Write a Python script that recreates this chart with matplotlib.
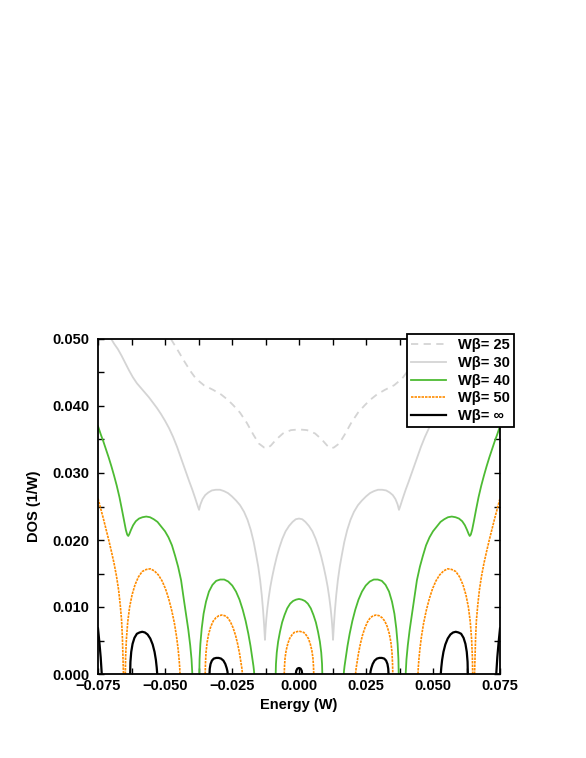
import numpy as np
import matplotlib
matplotlib.use('Agg')
import matplotlib.pyplot as plt
from matplotlib.ticker import MultipleLocator, FuncFormatter

plt.rcParams['font.family'] = ['Liberation Sans', 'DejaVu Sans']
plt.rcParams['font.weight'] = 'bold'

nan = np.nan

#### DATA (NaN splits the separate arcs)
labels = ['W\u03b2= 25', 'W\u03b2= 30', 'W\u03b2= 40', 'W\u03b2= 50', 'W\u03b2= \u221e']

# W beta = 25 (dashed grey)
x_25 = [-0.0478, -0.0455, -0.0430, -0.0405, -0.0385, -0.0355, -0.0320, -0.0290, -0.0265, -0.0245,
        -0.0220, -0.0195, -0.0170, -0.0150, -0.0130, -0.0118, -0.0105, -0.0085, -0.0060, -0.0030, 0.0,
        0.0030, 0.0060, 0.0085, 0.0105, 0.0118, 0.0130, 0.0150, 0.0170, 0.0195, 0.0220,
        0.0245, 0.0265, 0.0290, 0.0320, 0.0355, 0.0385, 0.0405, 0.0430, 0.0455, 0.0478]
y_25 = [0.0500, 0.0485, 0.0468, 0.0452, 0.0441, 0.0431, 0.0424, 0.0417, 0.0409, 0.0401,
        0.0390, 0.0375, 0.0357, 0.0344, 0.0338, 0.0337, 0.0341, 0.0350, 0.0359, 0.0364, 0.0365,
        0.0364, 0.0359, 0.0350, 0.0341, 0.0337, 0.0338, 0.0344, 0.0357, 0.0375, 0.0390,
        0.0401, 0.0409, 0.0417, 0.0424, 0.0431, 0.0441, 0.0452, 0.0468, 0.0485, 0.0500]

# W beta = 30 (solid grey)
x_30_left = [-0.0702, -0.0690, -0.0676, -0.0662, -0.0648, -0.0634, -0.0620, -0.0605, -0.0590, -0.0575,
             -0.0560, -0.0545, -0.0530, -0.0515, -0.0500, -0.0485, -0.0470, -0.0455, -0.0440, -0.0425,
             -0.0410, -0.0398, -0.0387, -0.0379,
             -0.0373, -0.0368, -0.0360, -0.0350, -0.0338, -0.0325, -0.0310, -0.0295, -0.0280, -0.0265,
             -0.0250, -0.0235, -0.0220, -0.0205, -0.0192, -0.0180, -0.0169, -0.0160, -0.0152, -0.0145,
             -0.0139, -0.0134, -0.0130,
             -0.0127, -0.0125, -0.0122, -0.0118, -0.0113, -0.0107, -0.0100, -0.0092, -0.0083, -0.0073,
             -0.0062, -0.0050, -0.0037, -0.0024, -0.0012, 0.0]
y_30_left = [0.0501, 0.0493, 0.0485, 0.0475, 0.0464, 0.0453, 0.0443, 0.0434, 0.0427, 0.0420,
             0.0413, 0.0405, 0.0397, 0.0388, 0.0378, 0.0367, 0.0354, 0.0339, 0.0322, 0.0305,
             0.0288, 0.0275, 0.0262, 0.0252,
             0.0245, 0.0253, 0.0261, 0.0267, 0.0271, 0.0274, 0.0275, 0.0275, 0.0273, 0.0270,
             0.0265, 0.0259, 0.0252, 0.0242, 0.0230, 0.0215, 0.0197, 0.0178, 0.0160, 0.0140,
             0.0118, 0.0095, 0.0072,
             0.0051, 0.0066, 0.0082, 0.0098, 0.0114, 0.0130, 0.0145, 0.0160, 0.0175, 0.0189,
             0.0202, 0.0213, 0.0221, 0.0227, 0.0231, 0.0232]
x_30_right = [0.0012, 0.0024, 0.0037, 0.0050, 0.0062, 0.0073, 0.0083, 0.0092, 0.0100, 0.0107,
              0.0113, 0.0118, 0.0122, 0.0125, 0.0127,
              0.0130, 0.0134, 0.0139, 0.0145, 0.0152, 0.0160, 0.0169, 0.0180, 0.0192, 0.0205,
              0.0220, 0.0235, 0.0250, 0.0265, 0.0280, 0.0295, 0.0310, 0.0325, 0.0338, 0.0350,
              0.0360, 0.0368, 0.0373,
              0.0379, 0.0387, 0.0398, 0.0410, 0.0425, 0.0440, 0.0455, 0.0470, 0.0485, 0.0500,
              0.0515, 0.0530, 0.0545, 0.0560, 0.0575, 0.0590, 0.0605, 0.0620, 0.0634, 0.0648,
              0.0662, 0.0676, 0.0690, 0.0702]
y_30_right = [0.0231, 0.0227, 0.0221, 0.0213, 0.0202, 0.0189, 0.0175, 0.0160, 0.0145, 0.0130,
              0.0114, 0.0098, 0.0082, 0.0066, 0.0051,
              0.0072, 0.0095, 0.0118, 0.0140, 0.0160, 0.0178, 0.0197, 0.0215, 0.0230, 0.0242,
              0.0252, 0.0259, 0.0265, 0.0270, 0.0273, 0.0275, 0.0275, 0.0274, 0.0271, 0.0267,
              0.0261, 0.0253, 0.0245,
              0.0252, 0.0262, 0.0275, 0.0288, 0.0305, 0.0322, 0.0339, 0.0354, 0.0367, 0.0378,
              0.0388, 0.0397, 0.0405, 0.0413, 0.0420, 0.0427, 0.0434, 0.0443, 0.0453, 0.0464,
              0.0475, 0.0485, 0.0493, 0.0501]

# W beta = 40 (green)
x_40_left = [-0.0750, -0.0740, -0.0730, -0.0720, -0.0710, -0.0700, -0.0690, -0.0680, -0.0670, -0.0661,
             -0.0653, -0.0646, -0.0641, -0.0637, -0.0633, -0.0627, -0.0619, -0.0609, -0.0597, -0.0584,
             -0.0570, -0.0556, -0.0542, -0.0528, -0.0514, -0.0500, -0.0487, -0.0474, -0.0462, -0.0451,
             -0.0440, -0.0430, -0.0421, -0.0413, -0.0406, -0.0401, -0.0398, nan,
             -0.0372, -0.0371, -0.0368, -0.0363, -0.0356, -0.0347, -0.0336, -0.0323, -0.0309, -0.0294,
             -0.0279, -0.0264, -0.0249, -0.0235, -0.0222, -0.0210, -0.0199, -0.0189, -0.0181, -0.0175,
             -0.0170, -0.0168, -0.0167, nan,
             -0.0087, -0.0086, -0.0083, -0.0078, -0.0071, -0.0063, -0.0054, -0.0044, -0.0033, -0.0022,
             -0.0011, 0.0]
y_40_left = [0.0370, 0.0358, 0.0347, 0.0335, 0.0323, 0.0310, 0.0296, 0.0281, 0.0264, 0.0246,
             0.0229, 0.0215, 0.0208, 0.0206, 0.0209, 0.0215, 0.0222, 0.0228, 0.0232, 0.0234,
             0.0235, 0.0234, 0.0231, 0.0227, 0.0220, 0.0213, 0.0204, 0.0192, 0.0176, 0.0160,
             0.0140, 0.0112, 0.0088, 0.0066, 0.0043, 0.0022, 0.0, nan,
             0.0, 0.0022, 0.0045, 0.0068, 0.0090, 0.0108, 0.0123, 0.0133, 0.0139, 0.0141,
             0.0141, 0.0138, 0.0132, 0.0123, 0.0111, 0.0096, 0.0079, 0.0060, 0.0042, 0.0026,
             0.0012, 0.0005, 0.0, nan,
             0.0, 0.0015, 0.0032, 0.0048, 0.0063, 0.0077, 0.0088, 0.0098, 0.0105, 0.0109,
             0.0111, 0.0112]
x_40_right = [0.0011, 0.0022, 0.0033, 0.0044, 0.0054, 0.0063, 0.0071, 0.0078, 0.0083, 0.0086,
              0.0087, nan,
              0.0167, 0.0168, 0.0170, 0.0175, 0.0181, 0.0189, 0.0199, 0.0210, 0.0222, 0.0235,
              0.0249, 0.0264, 0.0279, 0.0294, 0.0309, 0.0323, 0.0336, 0.0347, 0.0356, 0.0363,
              0.0368, 0.0371, 0.0372, nan,
              0.0398, 0.0401, 0.0406, 0.0413, 0.0421, 0.0430, 0.0440, 0.0451, 0.0462, 0.0474,
              0.0487, 0.0500, 0.0514, 0.0528, 0.0542, 0.0556, 0.0570, 0.0584, 0.0597, 0.0609,
              0.0619, 0.0627, 0.0633, 0.0637, 0.0641, 0.0646, 0.0653, 0.0661, 0.0670, 0.0680,
              0.0690, 0.0700, 0.0710, 0.0720, 0.0730, 0.0740, 0.0750]
y_40_right = [0.0111, 0.0109, 0.0105, 0.0098, 0.0088, 0.0077, 0.0063, 0.0048, 0.0032, 0.0015,
              0.0, nan,
              0.0, 0.0005, 0.0012, 0.0026, 0.0042, 0.0060, 0.0079, 0.0096, 0.0111, 0.0123,
              0.0132, 0.0138, 0.0141, 0.0141, 0.0139, 0.0133, 0.0123, 0.0108, 0.0090, 0.0068,
              0.0045, 0.0022, 0.0, nan,
              0.0, 0.0022, 0.0043, 0.0066, 0.0088, 0.0112, 0.0140, 0.0160, 0.0176, 0.0192,
              0.0204, 0.0213, 0.0220, 0.0227, 0.0231, 0.0234, 0.0235, 0.0234, 0.0232, 0.0228,
              0.0222, 0.0215, 0.0209, 0.0206, 0.0208, 0.0215, 0.0229, 0.0246, 0.0264, 0.0281,
              0.0296, 0.0310, 0.0323, 0.0335, 0.0347, 0.0358, 0.0370]

# W beta = 50 (orange, dotted)
x_50_left = [-0.0750, -0.0740, -0.0730, -0.0720, -0.0710, -0.0700, -0.0690, -0.0681, -0.0673, -0.0667,
             -0.0662, -0.0659, -0.0657, -0.0655, nan,
             -0.0648, -0.0647, -0.0644, -0.0639, -0.0632, -0.0623, -0.0612, -0.0599, -0.0585, -0.0570,
             -0.0555, -0.0540, -0.0525, -0.0511, -0.0498, -0.0486, -0.0475, -0.0465, -0.0457, -0.0451,
             -0.0447, -0.0445, -0.0444, nan,
             -0.0350, -0.0349, -0.0347, -0.0343, -0.0337, -0.0329, -0.0320, -0.0310, -0.0299, -0.0288,
             -0.0277, -0.0266, -0.0256, -0.0246, -0.0237, -0.0229, -0.0222, -0.0217, -0.0213, -0.0211, nan,
             -0.0055, -0.0054, -0.0052, -0.0048, -0.0042, -0.0035, -0.0027, -0.0018, -0.0009, 0.0]
y_50_left = [0.0262, 0.0247, 0.0232, 0.0216, 0.0200, 0.0183, 0.0165, 0.0146, 0.0125, 0.0103,
             0.0080, 0.0055, 0.0030, 0.0, nan,
             0.0, 0.0025, 0.0052, 0.0078, 0.0100, 0.0118, 0.0133, 0.0145, 0.0153, 0.0156,
             0.0157, 0.0154, 0.0148, 0.0139, 0.0127, 0.0112, 0.0095, 0.0076, 0.0056, 0.0037,
             0.0020, 0.0009, 0.0, nan,
             0.0, 0.0016, 0.0032, 0.0047, 0.0060, 0.0071, 0.0079, 0.0084, 0.0087, 0.0088,
             0.0087, 0.0084, 0.0078, 0.0069, 0.0058, 0.0045, 0.0031, 0.0018, 0.0008, 0.0, nan,
             0.0, 0.0012, 0.0024, 0.0035, 0.0045, 0.0053, 0.0058, 0.0062, 0.0063, 0.0064]
x_50_right = [0.0009, 0.0018, 0.0027, 0.0035, 0.0042, 0.0048, 0.0052, 0.0054, 0.0055, nan,
              0.0211, 0.0213, 0.0217, 0.0222, 0.0229, 0.0237, 0.0246, 0.0256, 0.0266, 0.0277,
              0.0288, 0.0299, 0.0310, 0.0320, 0.0329, 0.0337, 0.0343, 0.0347, 0.0349, 0.0350, nan,
              0.0444, 0.0445, 0.0447, 0.0451, 0.0457, 0.0465, 0.0475, 0.0486, 0.0498, 0.0511,
              0.0525, 0.0540, 0.0555, 0.0570, 0.0585, 0.0599, 0.0612, 0.0623, 0.0632, 0.0639,
              0.0644, 0.0647, 0.0648, nan,
              0.0655, 0.0657, 0.0659, 0.0662, 0.0667, 0.0673, 0.0681, 0.0690, 0.0700, 0.0710,
              0.0720, 0.0730, 0.0740, 0.0750]
y_50_right = [0.0063, 0.0062, 0.0058, 0.0053, 0.0045, 0.0035, 0.0024, 0.0012, 0.0, nan,
              0.0, 0.0008, 0.0018, 0.0031, 0.0045, 0.0058, 0.0069, 0.0078, 0.0084, 0.0087,
              0.0088, 0.0087, 0.0084, 0.0079, 0.0071, 0.0060, 0.0047, 0.0032, 0.0016, 0.0, nan,
              0.0, 0.0009, 0.0020, 0.0037, 0.0056, 0.0076, 0.0095, 0.0112, 0.0127, 0.0139,
              0.0148, 0.0154, 0.0157, 0.0156, 0.0153, 0.0145, 0.0133, 0.0118, 0.0100, 0.0078,
              0.0052, 0.0025, 0.0, nan,
              0.0, 0.0030, 0.0055, 0.0080, 0.0103, 0.0125, 0.0146, 0.0165, 0.0183, 0.0200,
              0.0216, 0.0232, 0.0247, 0.0262]

# W beta = infinity (black)
x_inf = [-0.0750, -0.0745, -0.0740, -0.0736, nan,
         -0.0630, -0.0629, -0.0626, -0.0621, -0.0614, -0.0605, -0.0595, -0.0585, -0.0575, -0.0565,
         -0.0555, -0.0546, -0.0539, -0.0534, -0.0531, -0.0529, nan,
         -0.0334, -0.0333, -0.0330, -0.0325, -0.0318, -0.0309, -0.0300, -0.0291, -0.0282, -0.0275,
         -0.0270, -0.0267, -0.0266, nan,
         -0.0012, -0.0010, -0.0006, 0.0, 0.0006, 0.0010, 0.0012, nan,
         0.0266, 0.0267, 0.0270, 0.0275, 0.0282, 0.0291, 0.0300, 0.0309, 0.0318, 0.0325,
         0.0330, 0.0333, 0.0334, nan,
         0.0529, 0.0531, 0.0534, 0.0539, 0.0546, 0.0555, 0.0565, 0.0575, 0.0585, 0.0595,
         0.0605, 0.0614, 0.0621, 0.0626, 0.0629, 0.0630, nan,
         0.0736, 0.0740, 0.0745, 0.0750]
y_inf = [0.0068, 0.0048, 0.0025, 0.0, nan,
         0.0, 0.0018, 0.0033, 0.0045, 0.0054, 0.0060, 0.0062, 0.0063, 0.0062, 0.0059,
         0.0053, 0.0044, 0.0033, 0.0021, 0.0010, 0.0, nan,
         0.0, 0.0008, 0.0015, 0.0020, 0.0023, 0.0024, 0.0024, 0.0023, 0.0020, 0.0015,
         0.0009, 0.0004, 0.0, nan,
         0.0, 0.0005, 0.0008, 0.0009, 0.0008, 0.0005, 0.0, nan,
         0.0, 0.0004, 0.0009, 0.0015, 0.0020, 0.0023, 0.0024, 0.0024, 0.0023, 0.0020,
         0.0015, 0.0008, 0.0, nan,
         0.0, 0.0010, 0.0021, 0.0033, 0.0044, 0.0053, 0.0059, 0.0062, 0.0063, 0.0062,
         0.0060, 0.0054, 0.0045, 0.0033, 0.0018, 0.0, nan,
         0.0, 0.0025, 0.0048, 0.0068]

#### PLOT
fig = plt.figure(figsize=(5.86, 7.58), dpi=100)
ax = fig.add_axes([98 / 586, 1 - 674 / 758, 402 / 586, 335 / 758])

ax.plot(x_25, y_25, color='#d4d4d4', lw=1.3, dashes=(4, 3), label=labels[0])
ax.plot(x_30_left + x_30_right, y_30_left + y_30_right, color='#d4d4d4', lw=1.3, label=labels[1])
ax.plot(x_40_left + x_40_right, y_40_left + y_40_right, color='#4dbb33', lw=1.3, label=labels[2])
ax.plot(x_50_left + x_50_right, y_50_left + y_50_right, color='#ff8c00', lw=1.2,
        dashes=(1.5, 0.6), label=labels[3])
ax.plot(x_inf, y_inf, color='black', lw=1.6, label=labels[4])

ax.set_xlim(-0.075, 0.075)
ax.set_ylim(0, 0.05)
ax.xaxis.set_major_locator(MultipleLocator(0.025))
ax.xaxis.set_minor_locator(MultipleLocator(0.0125))
ax.yaxis.set_major_locator(MultipleLocator(0.01))
ax.yaxis.set_minor_locator(MultipleLocator(0.005))
fmt = FuncFormatter(lambda v, p: ('%.3f' % (0.0 if abs(v) < 1e-9 else v)).replace('-', '\u2212'))
ax.xaxis.set_major_formatter(fmt)
ax.yaxis.set_major_formatter(fmt)
ax.tick_params(which='both', direction='in', top=True, right=True, length=4, width=1,
               labelsize=10.5)
ax.tick_params(axis='y', pad=6)
for s in ax.spines.values():
    s.set_linewidth(1.3)

ax.set_xlabel('Energy (W)', fontsize=10.5, fontweight='bold', labelpad=4)
ax.set_ylabel('DOS (1/W)', fontsize=10.5, fontweight='bold', labelpad=8)

leg = ax.legend(loc='upper right', bbox_to_anchor=(1.035, 1.015), fontsize=10.5,
                frameon=True, fancybox=False, framealpha=1, edgecolor='black',
                handlelength=2.4, labelspacing=0.25, borderpad=0.3, handletextpad=0.8,
                borderaxespad=0)
leg.get_frame().set_linewidth(1.3)

plt.savefig('out.png', dpi=100)
